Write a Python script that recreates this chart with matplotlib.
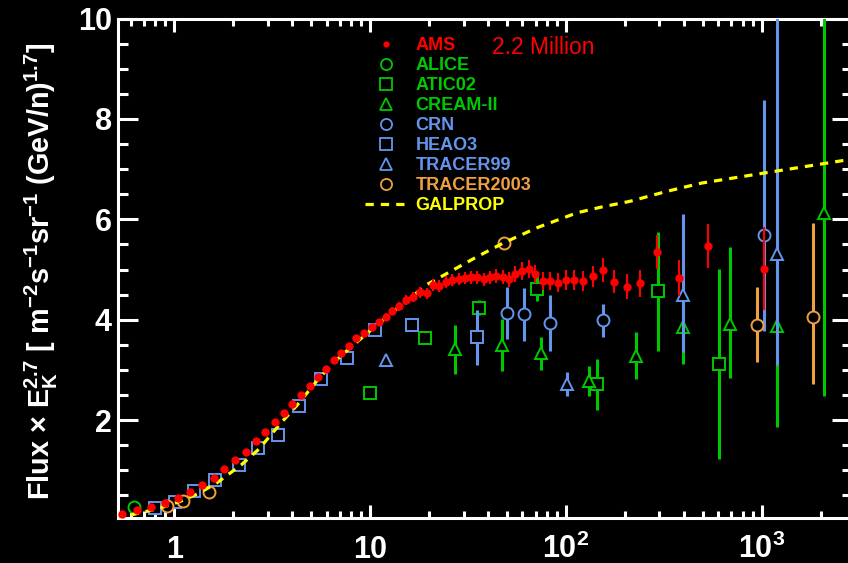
import matplotlib
matplotlib.use("Agg")
import matplotlib.pyplot as plt
from matplotlib.lines import Line2D
from matplotlib.ticker import FixedLocator, FixedFormatter, LogLocator, NullFormatter, MultipleLocator

plt.rcParams["font.family"] = ["Liberation Sans", "DejaVu Sans"]
plt.rcParams["font.weight"] = "bold"
plt.rcParams["mathtext.fontset"] = "custom"
plt.rcParams["mathtext.rm"] = "Liberation Sans:bold"
plt.rcParams["mathtext.it"] = "Liberation Sans:bold"
plt.rcParams["mathtext.bf"] = "Liberation Sans:bold"

# AMS carbon-like flux x Ek^2.7
ams_e = [0.543, 0.648, 0.764, 0.901, 1.045, 1.21, 1.39, 1.60, 1.80, 2.05, 2.32, 2.61, 2.92, 3.26,
         3.64, 4.01, 4.46, 4.94, 5.42, 5.98, 6.55, 7.13, 7.81, 8.51, 9.31, 10.2, 11.1, 12.0, 13.0,
         14.1, 15.3, 16.5, 18.0, 19.5, 20.9, 22.6, 24.4, 26.3, 28.4, 30.5, 32.8, 35.3, 38.1, 41.0,
         44.2, 47.6, 51.3, 55.2, 59.7, 64.6, 69.8, 76.2, 83.0, 91.2, 99.8, 110, 122, 137, 154, 176,
         205, 240, 293, 380, 534, 1033]
ams_y = [0.13, 0.20, 0.26, 0.35, 0.45, 0.56, 0.70, 0.85, 1.02, 1.20, 1.37, 1.58, 1.76, 1.96,
         2.15, 2.33, 2.51, 2.68, 2.85, 3.01, 3.19, 3.33, 3.47, 3.63, 3.73, 3.85, 3.95, 4.06, 4.18,
         4.27, 4.39, 4.45, 4.55, 4.53, 4.70, 4.67, 4.75, 4.79, 4.81, 4.83, 4.85, 4.85, 4.81, 4.85,
         4.87, 4.85, 4.81, 4.91, 4.97, 5.01, 4.91, 4.78, 4.78, 4.74, 4.80, 4.80, 4.78, 4.87, 4.99, 4.76,
         4.66, 4.73, 5.35, 4.83, 5.47, 5.02]
ams_err = [0.03] * 25 + [0.06, 0.07, 0.08, 0.08, 0.09, 0.10, 0.10, 0.11, 0.11, 0.12, 0.12, 0.12,
           0.12, 0.12, 0.12, 0.13, 0.13, 0.13, 0.13, 0.14, 0.14, 0.15, 0.16, 0.17, 0.18, 0.18,
           0.18, 0.18, 0.19, 0.20, 0.20, 0.20, 0.21, 0.23, 0.23, 0.25, 0.27, 0.33, 0.36, 0.43, 0.82]

alice_e = [0.62]
alice_y = [0.27]

atic_e = [10.0, 19.1, 36.1, 71.4, 144, 294, 608]
atic_y = [2.54, 3.64, 4.24, 4.62, 2.71, 4.57, 3.12]
atic_lo = [0.0, 0.0, 0.15, 0.25, 0.51, 1.19, 1.90]
atic_hi = [0.0, 0.0, 0.15, 0.25, 0.51, 1.18, 1.90]

cream_e = [27.2, 47.2, 75, 131, 228, 398, 690, 1198, 2084]
cream_y = [3.41, 3.49, 3.33, 2.78, 3.28, 3.85, 3.92, 3.88, 6.13]
cream_lo = [0.49, 0.52, 0.33, 0.29, 0.47, 0.74, 1.09, 2.01, 3.65]
cream_hi = [0.49, 0.52, 0.33, 0.29, 0.47, 0.74, 1.53, 2.00, 3.90]

crn_e = [50.3, 61.4, 83, 155.5, 1030]
crn_y = [4.13, 4.11, 3.93, 3.99, 5.68]
crn_lo = [0.52, 0.53, 0.56, 0.33, 1.90]
crn_hi = [0.52, 0.53, 0.56, 0.33, 2.70]

heao_e = [0.80, 1.01, 1.26, 1.62, 2.13, 2.69, 3.39, 4.35, 5.62, 7.6, 10.6, 16.3, 35.3]
heao_y = [0.25, 0.36, 0.58, 0.80, 1.10, 1.45, 1.71, 2.29, 2.82, 3.23, 3.80, 3.89, 3.65]
heao_lo = [0.0] * 11 + [0.10, 0.55]
heao_hi = [0.0] * 11 + [0.10, 0.55]

tracer99_e = [12.0, 101.4, 398, 1198]
tracer99_y = [3.20, 2.72, 4.50, 5.30]
tracer99_lo = [0.0, 0.23, 1.14, 2.20]
tracer99_hi = [0.0, 0.23, 1.60, 4.80]

tracer03_e = [0.915, 1.11, 1.51, 48.2, 944, 1832]
tracer03_y = [0.29, 0.38, 0.56, 5.53, 3.90, 4.06]
tracer03_lo = [0.0, 0.0, 0.0, 0.0, 0.75, 1.34]
tracer03_hi = [0.0, 0.0, 0.0, 0.0, 0.75, 1.87]

galprop_e = [0.5, 0.6, 0.7, 0.85, 1.07, 1.33, 1.65, 2.2, 2.7, 3.5, 4.2, 5.5, 7.0, 10, 14, 19.5,
             26, 35, 48, 72, 114, 150, 213, 330, 490, 1060, 2000, 2900]
galprop_y = [0.07, 0.11, 0.17, 0.25, 0.38, 0.54, 0.75, 1.11, 1.42, 1.94, 2.28, 2.84, 3.26, 3.78,
             4.25, 4.70, 4.97, 5.25, 5.53, 5.84, 6.13, 6.24, 6.36, 6.56, 6.72, 6.93, 7.10, 7.20]

red = "#ff0000"
green = "#00c800"
blue = "#6495ed"
orange = "#f0a040"
yellow = "#ffff00"
dash = (0, (2.6, 2.2))

fig = plt.figure(figsize=(8.48, 5.63), dpi=100, facecolor="black")
ax = fig.add_axes([0.1386, 0.0799, 0.8662, 0.8872])
ax.set_facecolor("black")

ms_open = 8.6
mew = 1.4
elw = 2.2


def open_points(e, y, lo, hi, marker, color, z):
    ax.errorbar(e, y, yerr=[lo, hi], fmt=marker, ms=ms_open, mfc="black", mec=color, mew=mew,
                ecolor=color, elinewidth=elw, capsize=0, zorder=z, clip_on=True)


open_points(alice_e, alice_y, [0.0], [0.0], "o", green, 3)
open_points(atic_e, atic_y, atic_lo, atic_hi, "s", green, 3)
open_points(cream_e, cream_y, cream_lo, cream_hi, "^", green, 3)
open_points(crn_e, crn_y, crn_lo, crn_hi, "o", blue, 4)
open_points(heao_e, heao_y, heao_lo, heao_hi, "s", blue, 4)
open_points(tracer99_e, tracer99_y, tracer99_lo, tracer99_hi, "^", blue, 4)
open_points(tracer03_e, tracer03_y, tracer03_lo, tracer03_hi, "o", orange, 5)

ax.plot(galprop_e, galprop_y, color=yellow, lw=2.3, ls=dash, zorder=6)

ax.errorbar(ams_e, ams_y, yerr=ams_err, fmt="o", ms=6.0, mfc=red, mec=red, mew=0,
            ecolor=red, elinewidth=1.5, capsize=0, zorder=7)

ax.set_xscale("log")
ax.set_xlim(0.513, 2895)
ax.set_ylim(0.05, 10)

ax.xaxis.set_major_locator(FixedLocator([1, 10, 100, 1000]))
ax.xaxis.set_major_formatter(FixedFormatter(["1", "10", r"$10^{2}$", r"$10^{3}$"]))
ax.xaxis.set_minor_locator(LogLocator(base=10, subs=range(2, 10), numticks=20))
ax.xaxis.set_minor_formatter(NullFormatter())
ax.yaxis.set_major_locator(MultipleLocator(2))
ax.yaxis.set_minor_locator(MultipleLocator(0.5))

for side in ax.spines.values():
    side.set_color("white")
    side.set_linewidth(2.2)

ax.tick_params(which="both", direction="in", top=True, right=True, color="white",
               labelcolor="white", labelsize=22, width=2.2)
ax.tick_params(axis="x", which="major", length=9.4, pad=28.5)
ax.tick_params(axis="x", which="minor", length=4.7)
ax.tick_params(axis="y", which="major", length=14.4, pad=4)
ax.tick_params(axis="y", which="minor", length=7.2)
for lbl in ax.get_xticklabels():
    lbl.set_verticalalignment("baseline")
for lbl in ax.get_xticklabels() + ax.get_yticklabels():
    lbl.set_fontweight("bold")

fig.text(41 / 848, 1 - 271 / 563,
         r"Flux $\times$ E$_{\rm K}^{2.7}$ [ m$^{-2}$s$^{-1}$sr$^{-1}$ (GeV/n)$^{1.7}$]",
         rotation=90, ha="center", va="center", fontsize=20.8, color="white", fontweight="bold")

handles = [
    Line2D([], [], ls="none", marker="o", ms=4.5, mfc=red, mec=red, mew=0),
    Line2D([], [], ls="none", marker="o", ms=8, mfc="none", mec=green, mew=1.3),
    Line2D([], [], ls="none", marker="s", ms=8, mfc="none", mec=green, mew=1.3),
    Line2D([], [], ls="none", marker="^", ms=8, mfc="none", mec=green, mew=1.3),
    Line2D([], [], ls="none", marker="o", ms=8, mfc="none", mec=blue, mew=1.3),
    Line2D([], [], ls="none", marker="s", ms=8, mfc="none", mec=blue, mew=1.3),
    Line2D([], [], ls="none", marker="^", ms=8, mfc="none", mec=blue, mew=1.3),
    Line2D([], [], ls="none", marker="o", ms=8, mfc="none", mec=orange, mew=1.3),
    Line2D([], [], color=yellow, lw=2.3, ls=dash),
]
names = ["AMS", "ALICE", "ATIC02", "CREAM-II", "CRN", "HEAO3", "TRACER99", "TRACER2003", "GALPROP"]
text_colors = [red, green, green, green, blue, blue, blue, orange, yellow]
leg = ax.legend(handles, names, loc="upper left", bbox_to_anchor=(365 / 848, 1 - 37 / 563),
                bbox_transform=fig.transFigure, frameon=False, borderpad=0, borderaxespad=0,
                handlelength=2.3, handletextpad=0.5, labelspacing=0.165,
                prop={"size": 13, "weight": "bold"})
for txt, c in zip(leg.get_texts(), text_colors):
    txt.set_color(c)

fig.text(492 / 848, 1 - 47 / 563, "2.2 Million", color=red, fontsize=16.5, fontweight="normal",
         ha="left", va="center")

fig.savefig("out.png", dpi=100, facecolor="black")
